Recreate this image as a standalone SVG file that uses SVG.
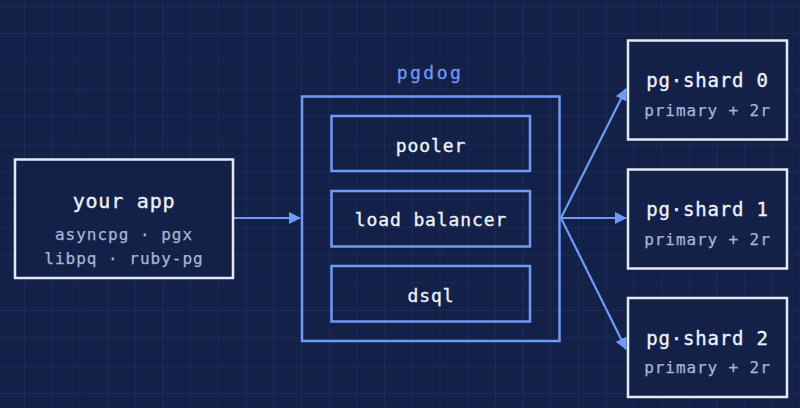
<svg xmlns="http://www.w3.org/2000/svg" width="800" height="408" viewBox="0 0 800 408">
<defs>
<pattern id="grid" x="-3.7" y="5.3" width="27.7" height="27.7" patternUnits="userSpaceOnUse">
<path d="M0 0H27.7M0 0V27.7" fill="none" stroke="#1d2c57" stroke-width="1.5"/>
</pattern>
<marker id="ah" viewBox="0 0 12 12" refX="11" refY="6" markerWidth="12" markerHeight="12" markerUnits="userSpaceOnUse" orient="auto">
<path d="M0 0L12 6L0 12Z" fill="#6f9af6"/>
</marker>
</defs>
<style>
text{font-family:"DejaVu Sans Mono","Liberation Mono",monospace;text-anchor:middle;dominant-baseline:central}
.w{fill:#132149;stroke:#e4e9f4;stroke-width:2.5}
.b{fill:none;stroke:#6f9af6;stroke-width:2.5}
.t{fill:#eef1f8;stroke:#eef1f8;stroke-width:0.35}
.s{fill:#a8b4d2;stroke:#a8b4d2;stroke-width:0.25}
.c{stroke:#6f9af6;stroke-width:2.2;fill:none}
</style>
<rect width="800" height="408" fill="#132149"/>
<rect width="800" height="408" fill="url(#grid)"/>
<g id="connectors">
<line class="c" x1="234" y1="218" x2="300" y2="218" marker-end="url(#ah)"/>
<line class="c" x1="561" y1="218" x2="626" y2="89" marker-end="url(#ah)"/>
<line class="c" x1="561" y1="218" x2="626" y2="218" marker-end="url(#ah)"/>
<line class="c" x1="561" y1="218" x2="626" y2="349" marker-end="url(#ah)"/>
</g>
<g id="app">
<rect class="w" x="15" y="159.5" width="218" height="118.5"/>
<text class="t" x="124" y="201" font-size="20" letter-spacing="0.8">your app</text>
<text class="s" x="124" y="234" font-size="16" letter-spacing="1">asyncpg · pgx</text>
<text class="s" x="124" y="258" font-size="16" letter-spacing="1">libpq · ruby-pg</text>
</g>
<g id="pgdog">
<text x="430" y="72" font-size="18" letter-spacing="2.5" fill="#6f9af6" stroke="#6f9af6" stroke-width="0.3">pgdog</text>
<rect class="b" x="302" y="96.5" width="257.5" height="244.5"/>
</g>
<g id="pooler">
<rect class="b" x="331.5" y="116" width="198.5" height="55"/>
<text class="t" x="431" y="145" font-size="18" letter-spacing="0.9">pooler</text>
</g>
<g id="lb">
<rect class="b" x="331.5" y="191" width="198.5" height="55.5"/>
<text class="t" x="431" y="219.5" font-size="18" letter-spacing="0.9">load balancer</text>
</g>
<g id="dsql">
<rect class="b" x="331.5" y="266" width="198.5" height="55.5"/>
<text class="t" x="431" y="295" font-size="18" letter-spacing="0.9">dsql</text>
</g>
<g id="shard0">
<rect class="w" x="628" y="40.5" width="159" height="99"/>
<text class="t" x="707.5" y="80" font-size="19" letter-spacing="0.8">pg·shard 0</text>
<text class="s" x="707.5" y="110" font-size="16" letter-spacing="0.9">primary + 2r</text>
</g>
<g id="shard1">
<rect class="w" x="628" y="169.5" width="159" height="99"/>
<text class="t" x="707.5" y="209" font-size="19" letter-spacing="0.8">pg·shard 1</text>
<text class="s" x="707.5" y="239" font-size="16" letter-spacing="0.9">primary + 2r</text>
</g>
<g id="shard2">
<rect class="w" x="628" y="298" width="159" height="99"/>
<text class="t" x="707.5" y="337.5" font-size="19" letter-spacing="0.8">pg·shard 2</text>
<text class="s" x="707.5" y="367.5" font-size="16" letter-spacing="0.9">primary + 2r</text>
</g>
</svg>
